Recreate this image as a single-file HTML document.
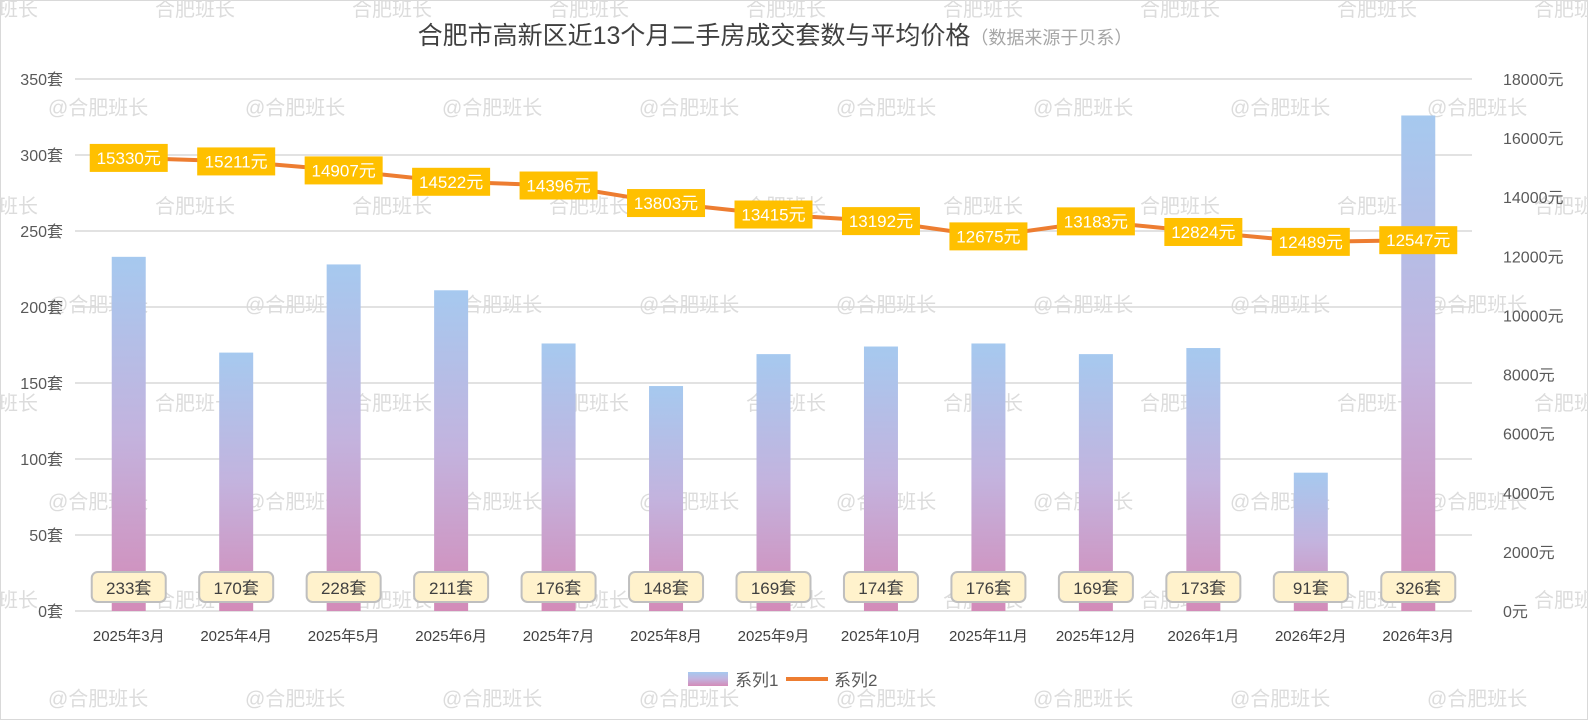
<!DOCTYPE html>
<html><head><meta charset="utf-8"><style>
body{margin:0;background:#fff;}
svg{display:block;font-family:"Liberation Sans","Noto Sans CJK SC",sans-serif;}
</style></head><body>
<svg id="c" width="1588" height="720" viewBox="0 0 1588 720">
<defs>
<linearGradient id="bg" x1="0" y1="0" x2="0" y2="1">
<stop offset="0" stop-color="#a6c9ef"/><stop offset="0.5" stop-color="#c3b3de"/><stop offset="1" stop-color="#d38bb8"/>
</linearGradient>
</defs>
<rect x="0.5" y="0.5" width="1587" height="719" fill="#fff" stroke="#d9d9d9"/>
<g id="wm"></g>
<g id="grid"></g>
<g id="bars"></g>
<g id="line"></g>
<g id="labels"></g>
<g id="axes"></g>
<text x="775" y="44" font-size="25" fill="#404040" text-anchor="middle">合肥市高新区近13个月二手房成交套数与平均价格<tspan font-size="18" fill="#a6a6a6">（数据来源于贝系）</tspan></text>
<g>
<rect x="688" y="672" width="40" height="14" fill="url(#bg)"/>
<text x="735" y="686" font-size="17" fill="#595959">系列1</text>
<line x1="786" y1="679" x2="828" y2="679" stroke="#ed7d31" stroke-width="4"/>
<text x="834" y="686" font-size="17" fill="#595959">系列2</text>
</g>
</svg>
<script>
const categories=["2025年3月","2025年4月","2025年5月","2025年6月","2025年7月","2025年8月","2025年9月","2025年10月","2025年11月","2025年12月","2026年1月","2026年2月","2026年3月"];
const counts=[233,170,228,211,176,148,169,174,176,169,173,91,326];
const prices=[15330,15211,14907,14522,14396,13803,13415,13192,12675,13183,12824,12489,12547];
const leftTicks=[0,50,100,150,200,250,300,350];
const rightTicks=[0,2000,4000,6000,8000,10000,12000,14000,16000,18000];
const NS="http://www.w3.org/2000/svg";
const X0=75,X1=1472,Y0=611,Y1=79;
const bw=(X1-X0)/categories.length;
function xc(i){return X0+bw*(i+0.5);}
function yl(v){return Y0-(v/350)*(Y0-Y1);}
function yr(v){return Y0-(v/18000)*(Y0-Y1);}
function mk(tag,attrs,parent,txt){const e=document.createElementNS(NS,tag);for(const k in attrs)e.setAttribute(k,attrs[k]);if(txt!==undefined)e.textContent=txt;parent.appendChild(e);return e;}
const g=id=>document.getElementById(id);
// watermarks
for(let r=0;r<8;r++){const y=16+r*98.5;const odd=r%2===0;
 for(let c=-1;c<9;c++){const x=odd?155+c*197:48+c*197;
  const t=mk('text',{x:x,y:y,'font-size':20,fill:'#dcdcdc'},g('wm'),odd?'合肥班长':'@合肥班长');
  
  }}
// grid + left ticks
leftTicks.forEach(v=>{const y=yl(v);
 const l=mk('line',{x1:X0,x2:X1,y1:y,y2:y,stroke:'#d9d9d9','stroke-width':1.5},g('grid'));
 
 
 const t=mk('text',{x:63,y:y+6,'font-size':16,fill:'#595959','text-anchor':'end'},g('axes'),v+'套');
 
 });
rightTicks.forEach(v=>{const y=yr(v);
 const t=mk('text',{x:1503,y:y+6,'font-size':16,fill:'#595959'},g('axes'),v+'元');
 
 });
categories.forEach((c,i)=>{
 const t=mk('text',{x:xc(i),y:641,'font-size':15,fill:'#404040','text-anchor':'middle'},g('axes'),c);
 
 });
// bars
counts.forEach((v,i)=>{const y=yl(v);
 const r=mk('rect',{x:xc(i)-17,y:y,width:34,height:Y0-y,fill:'url(#bg)'},g('bars'));
 
 
 const b=mk('rect',{x:xc(i)-37,y:572,width:74,height:30,rx:6,fill:'#fff2cc',stroke:'#bfbfbf','stroke-width':2},g('labels'));
 
 
 const t=mk('text',{x:xc(i),y:594,'font-size':17,fill:'#404040','text-anchor':'middle'},g('labels'),v+'套');
 
 });
// line
const pts=prices.map((v,i)=>xc(i)+','+yr(v)).join(' ');
const pl=mk('polyline',{points:pts,fill:'none',stroke:'#ed7d31','stroke-width':4,'stroke-linejoin':'round'},g('line'));


prices.forEach((v,i)=>{const y=yr(v);
 const b=mk('rect',{x:xc(i)-39,y:y-14,width:78,height:28,fill:'#ffc000'},g('labels'));
 
 
 const t=mk('text',{x:xc(i),y:y+6,'font-size':17,fill:'#fff','text-anchor':'middle'},g('labels'),v+'元');
 
 });
</script>
</body></html>
